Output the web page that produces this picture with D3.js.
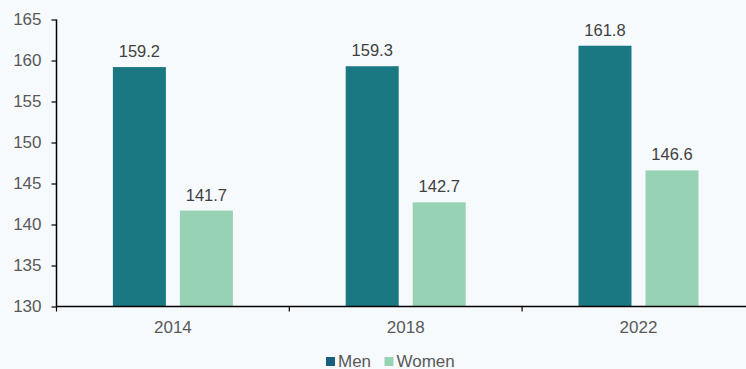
<!DOCTYPE html>
<html>
<head>
<meta charset="utf-8">
<script src="https://cdn.jsdelivr.net/npm/d3@7"></script>
<style>
  html, body { margin: 0; padding: 0; background: #f7fafc; }
  svg { display: block; font-family: "Liberation Sans", Arial, sans-serif; }
</style>
</head>
<body>
<svg id="chart" width="746" height="369"></svg>
<script>
const years = ["2014", "2018", "2022"];
const seriesNames = ["Men", "Women"];
const men = [159.2, 159.3, 161.8];
const women = [141.7, 142.7, 146.6];
const yTicks = [130, 135, 140, 145, 150, 155, 160, 165];

const barColors = { Men: "#1a7883", Women: "#98d2b5" };
const legendColors = { Men: "#175f7e", Women: "#98d2b5" };

const svg = d3.select("#chart");
const W = 746, H = 369;
const plotLeft = 56.5, plotBottom = 306.5, plotTop = 19.5;
const band = 232.8;

const x = d3.scaleBand().domain(years).range([plotLeft, plotLeft + band * years.length]).paddingInner(0).paddingOuter(0);
const y = d3.scaleLinear().domain([130, 165]).range([plotBottom, plotTop]);

const rows = years.map((yr, i) => ({ year: yr, Men: men[i], Women: women[i] }));

const barW = 53, gap = 14;
const offset = { Men: -(gap / 2 + barW), Women: gap / 2 };

// bars with value labels
const g = svg.append("g");
seriesNames.forEach(s => {
  g.selectAll(".bar-" + s)
    .data(rows)
    .join("rect")
    .attr("class", "bar-" + s)
    .attr("x", d => x(d.year) + x.bandwidth() / 2 + offset[s])
    .attr("y", d => y(d[s]))
    .attr("width", barW)
    .attr("height", d => y(130) - y(d[s]))
    .attr("fill", barColors[s]);

  g.selectAll(".lab-" + s)
    .data(rows)
    .join("text")
    .attr("class", "lab-" + s)
    .attr("x", d => x(d.year) + x.bandwidth() / 2 + offset[s] + barW / 2)
    .attr("y", d => y(d[s]) - 10)
    .attr("text-anchor", "middle")
    .attr("font-size", 16.5)
    .attr("fill", "#404040")
    .text(d => d[s].toFixed(1));
});

// y axis
const yAxis = d3.axisLeft(y).tickValues(yTicks).tickSize(5).tickPadding(10);
const ya = svg.append("g").attr("transform", `translate(${plotLeft},0)`).call(yAxis);
ya.select(".domain").attr("stroke", "#000").attr("stroke-width", 1.5).attr("d", `M0,${plotTop}V${plotBottom}`);
ya.selectAll(".tick line").attr("stroke", "#000").attr("stroke-width", 1.2);
ya.selectAll(".tick text").attr("font-size", 17).attr("fill", "#595959")
  .attr("font-family", "'Liberation Sans', Arial, sans-serif");

// x axis
const xAxis = d3.axisBottom(x).tickSize(0).tickPadding(14);
const xa = svg.append("g").attr("transform", `translate(0,${plotBottom})`).call(xAxis);
xa.select(".domain").attr("stroke", "#000").attr("stroke-width", 1.5).attr("d", `M${plotLeft},0H${W}`);
xa.selectAll(".tick text").attr("font-size", 17).attr("fill", "#595959")
  .attr("font-family", "'Liberation Sans', Arial, sans-serif");
// boundary ticks between categories
const bounds = [plotLeft, ...years.slice(1).map(v => x(v))];
xa.selectAll(".bound").data(bounds).join("line")
  .attr("class", "bound")
  .attr("x1", d => d).attr("x2", d => d).attr("y1", 0).attr("y2", 5)
  .attr("stroke", "#000").attr("stroke-width", 1.2);

// legend
const legendX = { Men: 326, Women: 384.5 };
const lg = svg.append("g");
seriesNames.forEach(s => {
  lg.append("rect").attr("x", legendX[s]).attr("y", 357).attr("width", 9).attr("height", 9).attr("fill", legendColors[s]);
  lg.append("text").attr("x", legendX[s] + 12).attr("y", 366.5).attr("font-size", 17).attr("fill", "#595959").text(s);
});
</script>
</body>
</html>
